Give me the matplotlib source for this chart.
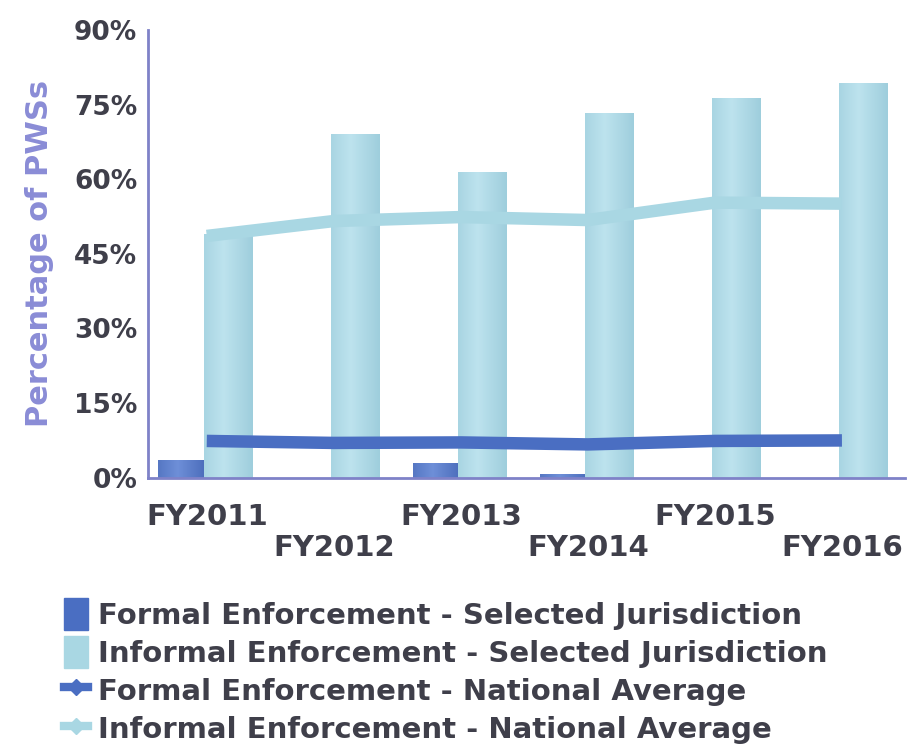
# Formal vs informal enforcement, selected jurisdiction vs national average
import numpy as np
import matplotlib.pyplot as plt
from matplotlib.lines import Line2D
from matplotlib.patches import Patch

years = ['FY2011', 'FY2012', 'FY2013', 'FY2014', 'FY2015', 'FY2016']
formal_selected = [3.6, 0.0, 3.0, 0.8, 0.0, 0.0]
informal_selected = [49.0, 69.0, 61.5, 73.3, 76.2, 79.3]
formal_national = [7.4, 7.0, 7.1, 6.7, 7.4, 7.5]
informal_national = [48.6, 51.6, 52.4, 51.8, 55.3, 55.1]

dark_blue = '#4a6ec2'
light_blue = '#a9d7e3'
axis_col = '#7f82c8'
text_col = '#3f3f4a'

plt.rcParams['font.family'] = 'DejaVu Sans'
plt.rcParams['font.weight'] = 'bold'

fig = plt.figure(figsize=(9.1, 7.5), dpi=100)
ax = fig.add_axes([0.163, 0.363, 0.832, 0.597])

x = np.arange(len(years))
w = 0.38


def shade(bars, base, edge):
    # fake cylinder look: horizontal gradient inside every bar
    for b in bars:
        if b.get_height() <= 0:
            continue
        x0, y0 = b.get_x(), b.get_y()
        grad = np.linspace(0, 1, 50)
        grad = 1 - np.abs(grad - 0.4) * 1.2
        img = np.outer(np.ones(2), grad)
        cmap = plt.matplotlib.colors.LinearSegmentedColormap.from_list('c', [edge, base])
        ax.imshow(img, extent=[x0, x0 + b.get_width(), y0, y0 + b.get_height()],
                  aspect='auto', cmap=cmap, vmin=0, vmax=1, zorder=2, origin='lower')


b1 = ax.bar(x - w / 2, formal_selected, w, color=dark_blue, zorder=2)
b2 = ax.bar(x + w / 2 - 0.02, informal_selected, w, color=light_blue, zorder=2)
shade(b1, '#6e8fd8', '#3c5eae')
shade(b2, '#bde3ee', '#93c6d6')

ax.plot(x, informal_national, color=light_blue, lw=9, zorder=3, solid_capstyle='butt')
ax.plot(x, formal_national, color=dark_blue, lw=9, zorder=3, solid_capstyle='butt')

ax.set_xlim(-0.46, 5.5)
ax.set_ylim(0, 90)
ax.set_yticks(np.arange(0, 91, 15))
ax.set_yticklabels([f'{v}%' for v in range(0, 91, 15)], fontsize=19, color=text_col)
ax.set_xticks(x)
ax.set_xticklabels([y if i % 2 == 0 else '\n' + y for i, y in enumerate(years)],
                   fontsize=21, color=text_col, linespacing=1.15)
ax.tick_params(axis='y', length=0, pad=8)
ax.tick_params(axis='x', length=0, pad=18)
for s in ['top', 'right']:
    ax.spines[s].set_visible(False)
for s in ['left', 'bottom']:
    ax.spines[s].set_color(axis_col)
    ax.spines[s].set_linewidth(2)
ax.set_ylabel('Percentage of PWSs', fontsize=22, color='#8a8cd6', labelpad=14,
              fontweight='bold')

handles = [
    Patch(color=dark_blue),
    Patch(color=light_blue),
    Line2D([], [], color=dark_blue, lw=6, marker='D', markersize=8),
    Line2D([], [], color=light_blue, lw=6, marker='D', markersize=8),
]
labels = ['Formal Enforcement - Selected Jurisdiction',
          'Informal Enforcement - Selected Jurisdiction',
          'Formal Enforcement - National Average',
          'Informal Enforcement - National Average']
leg = fig.legend(handles, labels, loc='upper left', bbox_to_anchor=(0.058, 0.218),
                 frameon=False, fontsize=21, handlelength=0.8, handleheight=1.3,
                 handletextpad=0.35, labelspacing=0.22, borderaxespad=0)
for t in leg.get_texts():
    t.set_color(text_col)

plt.savefig('out.png', dpi=100)
